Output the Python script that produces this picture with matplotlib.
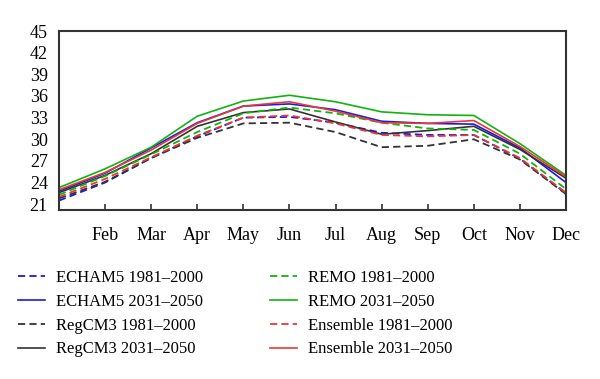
import matplotlib
matplotlib.use("Agg")
import matplotlib.pyplot as plt

plt.rcParams['font.family'] = ['Liberation Serif', 'DejaVu Serif']

months = ["Jan", "Feb", "Mar", "Apr", "May", "Jun", "Jul", "Aug", "Sep", "Oct", "Nov", "Dec"]

echam5_past = [21.5, 24.0, 27.4, 30.4, 33.0, 33.1, 32.3, 30.9, 30.6, 30.6, 27.3, 22.5]
echam5_fut = [22.8, 25.3, 28.8, 32.3, 34.6, 34.9, 34.1, 32.5, 32.2, 32.1, 28.8, 24.0]
regcm3_past = [21.8, 24.1, 27.4, 30.2, 32.2, 32.3, 31.0, 28.9, 29.1, 30.0, 27.2, 22.4]
regcm3_fut = [22.6, 25.0, 28.0, 31.8, 33.7, 34.2, 32.4, 30.7, 31.2, 31.8, 28.6, 24.6]
remo_past = [22.3, 24.9, 27.9, 31.0, 33.6, 34.4, 33.6, 32.3, 31.5, 31.3, 28.0, 23.1]
remo_fut = [23.3, 25.9, 28.9, 33.2, 35.3, 36.1, 35.2, 33.8, 33.4, 33.3, 29.4, 25.0]
ens_past = [22.0, 24.5, 27.5, 30.5, 33.0, 33.3, 32.2, 30.6, 30.4, 30.6, 27.4, 22.6]
ens_fut = [23.0, 25.4, 28.5, 32.2, 34.6, 35.2, 33.9, 32.3, 32.2, 32.6, 29.0, 24.8]

blue = "#1a1ae6"
black = "#333333"
green = "#11b311"
red = "#e83838"
dash = (0, (4, 2.3))

fig = plt.figure(figsize=(6, 3.79), dpi=100)
ax = fig.add_axes([0.0983, 0.446, 0.845, 0.472])
x = list(range(len(months)))

l1, = ax.plot(x, echam5_past, color=blue, ls=dash, lw=1.3, label="ECHAM5 1981–2000")
l2, = ax.plot(x, echam5_fut, color=blue, lw=1.2, label="ECHAM5 2031–2050")
l3, = ax.plot(x, regcm3_past, color=black, ls=dash, lw=1.3, label="RegCM3 1981–2000")
l4, = ax.plot(x, regcm3_fut, color=black, lw=1.2, label="RegCM3 2031–2050")
l5, = ax.plot(x, remo_past, color=green, ls=dash, lw=1.3, label="REMO 1981–2000")
l6, = ax.plot(x, remo_fut, color=green, lw=1.2, label="REMO 2031–2050")
l7, = ax.plot(x, ens_past, color=red, ls=dash, lw=1.3, label="Ensemble 1981–2000")
l8, = ax.plot(x, ens_fut, color=red, lw=1.2, label="Ensemble 2031–2050")

ax.set_xlim(0, 11)
ax.set_ylim(20.2, 45)
ax.set_yticks(range(21, 46, 3))
ax.set_xticks(x[1:])
ax.set_xticklabels(months[1:])
ax.tick_params(axis='x', direction='in', length=4, width=1.2, pad=12, labelsize=13, color=black)
ax.tick_params(axis='y', length=0, pad=8, labelsize=13)
for s in ax.spines.values():
    s.set_linewidth(1.5)
    s.set_color(black)

kw = dict(loc='upper left', frameon=False, fontsize=12, handlelength=1.6,
          handletextpad=0.7, labelspacing=0.47, borderpad=0, borderaxespad=0)
leg1 = fig.legend(handles=[l1, l2, l3, l4], bbox_to_anchor=(0.03, 0.288), **kw)
leg2 = fig.legend(handles=[l5, l6, l7, l8], bbox_to_anchor=(0.45, 0.288), **kw)

fig.savefig("out.png", dpi=100)
